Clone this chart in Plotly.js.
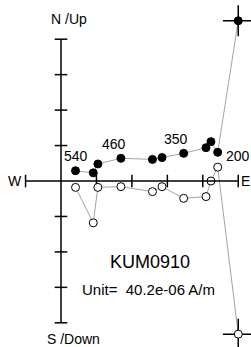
<!DOCTYPE html>
<html>
<head>
<meta charset="utf-8">
<script src="https://cdn.plot.ly/plotly-3.0.1.min.js"></script>
<style>html,body{margin:0;padding:0;background:#fff;}#chart{width:251px;height:347px;}</style>
</head>
<body>
<div id="chart"></div>
<script>
// Demagnetisation steps (labels shown only for some)
var stepLabels = ['', '200', '', '', '350', '', '', '460', '', '', '540'];
// Horizontal projection (filled): East vs North, in plot units
var east  = [5.00, 4.42, 4.23, 4.09, 3.46, 2.85, 2.58, 1.69, 1.04, 0.91, 0.41];
var north = [4.52, 0.81, 1.11, 0.94, 0.78, 0.66, 0.61, 0.64, 0.48, 0.23, 0.29];
// Vertical projection (open): East vs Up
var up    = [-4.32, 0.39, 0.00, -0.44, -0.49, -0.16, -0.30, -0.16, -0.18, -1.18, -0.18];
// Axis ticks
var xTicks = [-1, 1, 2, 3, 4, 5];
var yTicks = [4, 3, 2, 1, -1, -2, -3, -4];
var sampleName = 'KUM0910';
var unitText = 'Unit=  40.2e-06 A/m';

var FONT = 'Liberation Sans, Arial, sans-serif';
var lineGray = '#aaa2a2';

var traces = [];
// axis tick marks
traces.push({x: xTicks, y: xTicks.map(function(){return 0;}), mode: 'markers', hoverinfo: 'skip',
  marker: {symbol: 'line-ns', size: 9, line: {width: 1.5, color: '#000'}}});
traces.push({x: yTicks.map(function(){return 0;}), y: yTicks, mode: 'markers', hoverinfo: 'skip',
  marker: {symbol: 'line-ew', size: 9, line: {width: 1.5, color: '#000'}}});
// lines
traces.push({x: east, y: north, mode: 'lines', line: {color: lineGray, width: 1}, hoverinfo: 'skip'});
traces.push({x: east, y: up, mode: 'lines', line: {color: lineGray, width: 1}, hoverinfo: 'skip'});
// NRM crosses
traces.push({x: [east[0], east[0]], y: [north[0], up[0]], mode: 'markers', hoverinfo: 'skip',
  marker: {symbol: 'cross-thin', size: 22, line: {width: 1.5, color: '#000'}}});
// markers
traces.push({x: east, y: north, mode: 'markers',
  marker: {symbol: 'circle', size: 8, color: '#000', line: {width: 1, color: '#000'}}});
traces.push({x: east, y: up, mode: 'markers',
  marker: {symbol: 'circle', size: 8, color: '#fff', line: {width: 1, color: '#000'}}});

var shapes = [
  {type: 'line', x0: -1, x1: 5, y0: 0, y1: 0, line: {color: '#000', width: 1.5}},
  {type: 'line', x0: 0, x1: 0, y0: -4, y1: 4, line: {color: '#000', width: 1.5}}
];

var annotations = [];
var shifts = {'200': [7, -4, 'left'], '350': [-8, 14, 'center'], '460': [-7, 14, 'center'], '540': [0, 15, 'center']};
stepLabels.forEach(function(l, i){
  if (!l) return;
  var s = shifts[l];
  annotations.push({x: east[i], y: north[i], text: l, showarrow: false, xshift: s[0], yshift: s[1],
    xanchor: s[2], yanchor: 'middle', borderpad: 0, font: {family: FONT, size: 14, color: '#000'}});
});
annotations.push({x: 0, y: 4, text: 'N /Up', showarrow: false, xshift: 8, yshift: 10, yanchor: 'bottom', xanchor: 'center', font: {family: FONT, size: 14, color: '#000'}});
annotations.push({x: 0, y: -4, text: 'S /Down', showarrow: false, xshift: 12, yshift: -6, yanchor: 'top', xanchor: 'center', font: {family: FONT, size: 14, color: '#000'}});
annotations.push({x: -1, y: 0, text: 'W', showarrow: false, xshift: -2, xanchor: 'right', yanchor: 'middle', font: {family: FONT, size: 14, color: '#000'}});
annotations.push({x: 5, y: 0, text: 'E', showarrow: false, xshift: 1, xanchor: 'left', yanchor: 'middle', font: {family: FONT, size: 14, color: '#000'}});
annotations.push({xref: 'paper', yref: 'paper', x: 150/251, y: 1 - 262/347, text: sampleName, showarrow: false, xanchor: 'center', yanchor: 'middle', font: {family: FONT, size: 18, color: '#000'}});
annotations.push({xref: 'paper', yref: 'paper', x: 148/251, y: 1 - 289/347, text: unitText, showarrow: false, xanchor: 'center', yanchor: 'middle', font: {family: FONT, size: 15, color: '#000'}});

var sc = 35.45;
var layout = {
  width: 251, height: 347,
  margin: {l: 0, r: 0, t: 0, b: 0},
  paper_bgcolor: '#fff', plot_bgcolor: '#fff',
  showlegend: false,
  xaxis: {visible: false, range: [-61/sc, (251-61)/sc], fixedrange: true},
  yaxis: {visible: false, range: [(181-347)/sc, 181/sc], fixedrange: true},
  shapes: shapes,
  annotations: annotations
};
Plotly.newPlot('chart', traces, layout, {displayModeBar: false, staticPlot: true});
</script>
</body>
</html>
